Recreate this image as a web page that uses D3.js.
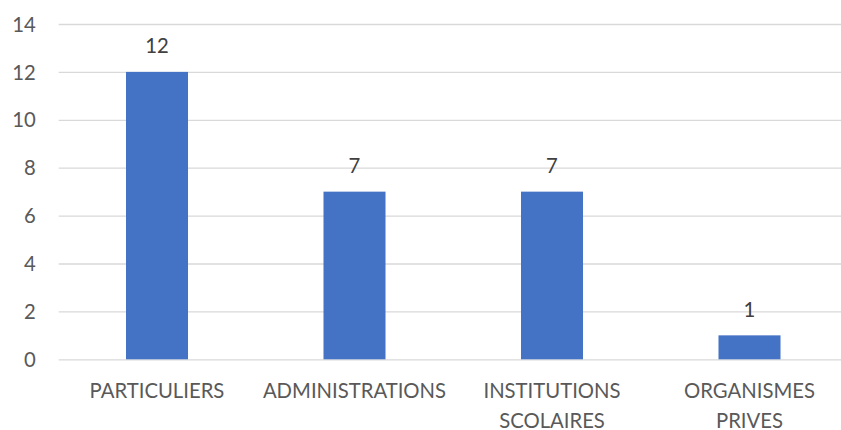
<!DOCTYPE html>
<html><head><meta charset="utf-8">
<script src="https://cdn.jsdelivr.net/npm/d3@7"></script>
<style>
html,body{margin:0;padding:0;background:#fff;overflow:hidden}
svg{display:block}
text{font-family:Lato,"Open Sans",sans-serif}
</style></head>
<body>
<div id="chart"></div>
<script>
const categories = ["PARTICULIERS", "ADMINISTRATIONS", "INSTITUTIONS SCOLAIRES", "ORGANISMES PRIVES"];
const categoryLines = [["PARTICULIERS"], ["ADMINISTRATIONS"], ["INSTITUTIONS", "SCOLAIRES"], ["ORGANISMES", "PRIVES"]];
const values = [12, 7, 7, 1];
const yTicks = [0, 2, 4, 6, 8, 10, 12, 14];

const W = 841, H = 430;
const svg = d3.select("#chart").append("svg").attr("width", W).attr("height", H);

const x = d3.scaleBand().domain(categories).range([58.25, 848.25]).paddingInner(0.686).paddingOuter(0.343);
const y = d3.scaleLinear().domain([0, 14]).range([359.3, 24]);

const FS = 20.3;

// gridlines
const yAxis = d3.axisLeft(y).tickValues(yTicks).tickSize(-(841 - 58.7)).tickPadding(23).tickFormat(d3.format("d"));
const gy = svg.append("g").attr("transform", "translate(58.7,0)").call(yAxis);
gy.select(".domain").remove();
gy.selectAll(".tick line").attr("stroke", "#d9d9d9").attr("stroke-width", 1.3);
gy.selectAll(".tick text").attr("fill", "#595959").attr("font-size", FS).attr("dy", "0.35em");

// bars
svg.append("g").selectAll("rect").data(values).join("rect")
  .attr("x", (d, i) => x(categories[i]))
  .attr("width", x.bandwidth())
  .attr("y", d => y(d))
  .attr("height", d => y(0) - y(d))
  .attr("fill", "#4472c4");

// data labels
svg.append("g").selectAll("text").data(values).join("text")
  .attr("x", (d, i) => x(categories[i]) + x.bandwidth() / 2)
  .attr("y", d => y(d) - 18.7)
  .attr("text-anchor", "middle")
  .attr("fill", "#404040")
  .attr("font-size", FS)
  .text(d => d);

// x labels
const xl = svg.append("g").selectAll("text").data(categoryLines).join("text")
  .attr("text-anchor", "middle")
  .attr("fill", "#595959")
  .attr("font-size", FS)
  .attr("x", (d, i) => x(categories[i]) + x.bandwidth() / 2)
  .attr("y", 397.7);
xl.selectAll("tspan").data(d => d).join("tspan")
  .attr("x", function() { return this.parentNode.getAttribute("x"); })
  .attr("dy", (d, i) => i === 0 ? 0 : 29.8)
  .text(d => d);
</script>
</body></html>
